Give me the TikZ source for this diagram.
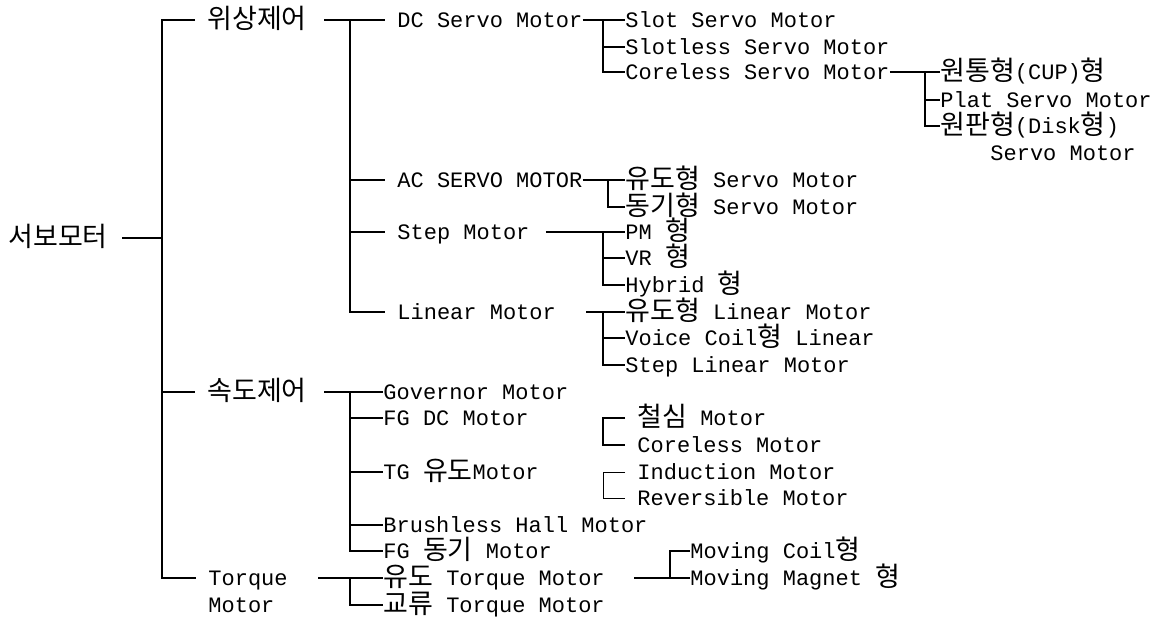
\documentclass[tikz,border=0pt]{standalone}
\usepackage{fontspec}
\setmainfont{Liberation Mono}
\newfontfamily\kr{Noto Sans CJK KR}[Scale=1.227]
\newcommand{\hg}[1]{\raisebox{-0.8pt}{\kr #1}}

\begin{document}
\begin{tikzpicture}[
    x=0.5pt, y=-0.5pt,
    lbl/.style={anchor=west, inner sep=0pt, text height=9pt, text depth=1.8pt,
      font=\fontsize{11}{13}\selectfont},
    wire/.style={line width=0.6pt},
    thinwire/.style={line width=0.4pt},
  ]
  \useasboundingbox (0,0) rectangle (1167,620);
  % spines
  \coordinate (s1) at (162,0);
  \coordinate (s2) at (350,0);
  \coordinate (s3) at (603,0);
  \coordinate (s4) at (925,0);
  \coordinate (s5) at (608,0);
  \coordinate (s7) at (670,0);

  \node[lbl] (root) at (8,238) {\hg{서보모터}};
  \node[lbl] (ph) at (207,20) {\hg{위상제어}};
  \node[lbl] (sp) at (207,392) {\hg{속도제어}};
  \node[lbl] (tq) at (208,578) {Torque};
  \node[lbl] (tqm) at (208,605) {Motor};

  \node[lbl] (dc) at (397,20) {DC Servo Motor};
  \node[lbl] (ac) at (397,180) {AC SERVO MOTOR};
  \node[lbl] (stp) at (397,232) {Step Motor};
  \node[lbl] (lin) at (397,312) {Linear Motor};

  \node[lbl] (slot) at (625,20) {Slot Servo Motor};
  \node[lbl] (slotless) at (625,47) {Slotless Servo Motor};
  \node[lbl] (coreless) at (625,72) {Coreless Servo Motor};
  \node[lbl] (cup) at (940,72) {\hg{원통형}(CUP)\hg{형}};
  \node[lbl] (plat) at (940,100) {Plat Servo Motor};
  \node[lbl] (disk) at (940,126) {\hg{원판형}(Disk\hg{형})};
  \node[lbl] (diskb) at (990,153) {Servo Motor};

  \node[lbl] (ind) at (625,180) {\hg{유도형} Servo Motor};
  \node[lbl] (syn) at (625,207) {\hg{동기형} Servo Motor};
  \node[lbl] (pm) at (625,232) {PM \hg{형}};
  \node[lbl] (vr) at (625,258) {VR \hg{형}};
  \node[lbl] (hyb) at (625,285) {Hybrid \hg{형}};
  \node[lbl] (il) at (625,312) {\hg{유도형} Linear Motor};
  \node[lbl] (vc) at (625,338) {Voice Coil\hg{형} Linear};
  \node[lbl] (sl) at (625,365) {Step Linear Motor};

  \node[lbl] (gov) at (383,392) {Governor Motor};
  \node[lbl] (fgdc) at (383,418) {FG DC Motor};
  \node[lbl] (tg) at (383,472) {TG \hg{유도}Motor};
  \node[lbl] (bl) at (383,525) {Brushless Hall Motor};
  \node[lbl] (fgs) at (383,551) {FG \hg{동기} Motor};
  \node[lbl] (iron) at (637,418) {\hg{철심} Motor};
  \node[lbl] (cl) at (637,445) {Coreless Motor};
  \node[lbl] (indm) at (637,472) {Induction Motor};
  \node[lbl] (rev) at (637,498) {Reversible Motor};

  \node[lbl] (itq) at (383,578) {\hg{유도} Torque Motor};
  \node[lbl] (actq) at (383,605) {\hg{교류} Torque Motor};
  \node[lbl] (mc) at (690,551) {Moving Coil\hg{형}};
  \node[lbl] (mm) at (690,578) {Moving Magnet \hg{형}};

  % level 1
  \draw[wire] ([xshift=7pt]root.east) -- (root.east -| s1);
  \draw[wire] ([xshift=-6pt]ph.west) -| (s1 |- tq.west) -- ([xshift=-6pt]tq.west);
  \draw[wire] (s1 |- sp.west) -- ([xshift=-6pt]sp.west);

  % phase control
  \draw[wire] ([xshift=8.5pt]ph.east) -- ([xshift=-6pt]dc.west);
  \draw[wire] (s2 |- dc.west) |- ([xshift=-6pt]lin.west);
  \foreach \n in {ac,stp}
    \draw[wire] (s2 |- \n.west) -- ([xshift=-6pt]\n.west);

  \draw[wire] (dc.east) -- (slot.west);
  \draw[wire] (s3 |- slot.west) |- (coreless.west);
  \draw[wire] (s3 |- slotless.west) -- (slotless.west);

  \draw[wire] (coreless.east) -- (cup.west);
  \draw[wire] (s4 |- cup.west) |- (disk.west);
  \draw[wire] (s4 |- plat.west) -- (plat.west);

  \draw[wire] (ac.east) -- (ind.west);
  \draw[wire] (s5 |- ind.west) |- (syn.west);

  \draw[wire] ([xshift=8pt]stp.east) -- (pm.west);
  \draw[wire] (s3 |- pm.west) |- (hyb.west);
  \draw[wire] (s3 |- vr.west) -- (vr.west);

  \draw[wire] ([xshift=15pt]lin.east) -- (il.west);
  \draw[wire] (s3 |- il.west) |- (sl.west);
  \draw[wire] (s3 |- vc.west) -- (vc.west);

  % speed control
  \draw[wire] ([xshift=8.5pt]sp.east) -- (gov.west);
  \draw[wire] (s2 |- gov.west) |- (fgs.west);
  \foreach \n in {fgdc,tg,bl}
    \draw[wire] (s2 |- \n.west) -- (\n.west);
  \draw[wire] ([xshift=-6pt]iron.west) -| (s3 |- cl.west) -- ([xshift=-6pt]cl.west);
  \draw[thinwire] ([xshift=-6pt]indm.west) -| (s3 |- rev.west) -- ([xshift=-6pt]rev.west);

  % torque motor
  \draw[wire] ([xshift=15pt]tq.east) -- (itq.west);
  \draw[wire] (s2 |- itq.west) |- (actq.west);
  \draw[wire] ([xshift=14.5pt]itq.east) -- (mm.west);
  \draw[wire] (s7 |- mm.west) |- (mc.west);
\end{tikzpicture}
\end{document}
